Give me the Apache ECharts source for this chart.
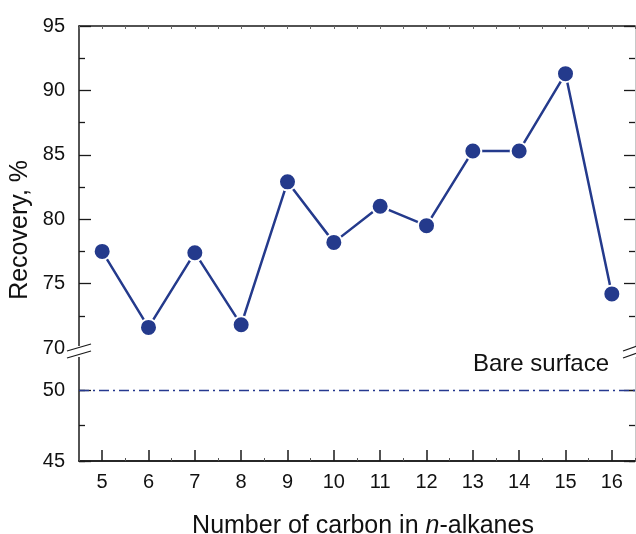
<!DOCTYPE html>
<html><head><meta charset="utf-8">
<script src="https://cdn.jsdelivr.net/npm/echarts@6/dist/echarts.min.js"></script>
<style>html,body{margin:0;padding:0;background:#fff}#c{width:636px;height:534px}</style>
</head><body><div id="c"></div>
<script>
// ---- data ----
const carbonNumbers = ['5','6','7','8','9','10','11','12','13','14','15','16'];
const recovery = [77.5, 71.6, 77.4, 71.8, 82.9, 78.2, 81.0, 79.5, 85.3, 85.3, 91.3, 74.2];
const bareSurface = 50;
const bareSurfaceLabel = 'Bare surface';
const upperRange = [70, 95];   // upper panel of broken y axis
const lowerRange = [45, 52.5]; // lower panel of broken y axis
const yTitle = 'Recovery, %';

const FONT = '"Liberation Sans", Arial, Helvetica, sans-serif';
const BLUE = '#243a8c';
const AX = '#1a1a1a';

const chart = echarts.init(document.getElementById('c'), null, {renderer: 'canvas'});
const halfTicks = carbonNumbers.flatMap(c => ['', '']);

function yAx(grid, pos, range, interval, opts) {
  return Object.assign({
    type: 'value', gridIndex: grid, position: pos, min: range[0], max: range[1], interval: interval,
    splitLine: {show: false},
    axisLine: {show: true, onZero: false, lineStyle: {color: pos === 'left' ? AX : '#c8c8c8', width: pos === 'left' ? 1.5 : 1}},
    axisTick: {show: true, inside: true, length: 12, lineStyle: {color: AX, width: 1.3}},
    axisLabel: {show: false}
  }, opts);
}

const option = {
  animation: false,
  backgroundColor: '#fff',
  grid: [
    {left: 79, right: 1, top: 26, height: 322, containLabel: false, outerBoundsMode: 'none'},
    {left: 79, right: 1, top: 355, height: 106, containLabel: false, outerBoundsMode: 'none'}
  ],
  xAxis: [
    {type: 'category', gridIndex: 0, data: carbonNumbers, show: false},
    {type: 'category', gridIndex: 0, data: halfTicks, position: 'top',
      axisLine: {onZero: false, lineStyle: {color: AX, width: 1.5}},
      axisTick: {show: true, inside: true, length: 3, lineStyle: {color: '#666', width: 1}},
      axisLabel: {show: false}, splitLine: {show: false}},
    {type: 'category', gridIndex: 1, data: carbonNumbers, position: 'bottom',
      axisLine: {onZero: false, lineStyle: {color: AX, width: 1.5}},
      axisTick: {show: true, inside: true, length: 3, lineStyle: {color: '#555', width: 1}},
      axisLabel: {show: false}, splitLine: {show: false}},
    {type: 'category', gridIndex: 1, data: carbonNumbers, position: 'bottom',
      axisLine: {show: true, onZero: false, lineStyle: {color: AX, width: 1.5}},
      axisTick: {show: true, inside: true, alignWithLabel: true, length: 11, lineStyle: {color: AX, width: 1.5}},
      axisLabel: {fontFamily: FONT, fontSize: 20, color: '#111', margin: 11},
      splitLine: {show: false},
      name: '{a|Number of carbon in }{i|n}{a|-alkanes}', nameLocation: 'middle', nameGap: 53,
      nameTextStyle: {padding: [0, 0, 0, 12], rich: {
        a: {fontFamily: FONT, fontSize: 25, color: '#111'},
        i: {fontFamily: FONT, fontSize: 25, color: '#111', fontStyle: 'italic'}
      }}}
  ],
  yAxis: [
    yAx(0, 'left', upperRange, 5, {
      minorTick: {show: true, splitNumber: 2, length: 6, lineStyle: {color: AX, width: 1.3}},
      axisLabel: {show: true, fontFamily: FONT, fontSize: 20, color: '#111', margin: 14}
    }),
    yAx(0, 'right', upperRange, 5, {
      axisTick: {show: true, inside: true, length: 11, lineStyle: {color: AX, width: 1.3}},
      minorTick: {show: true, splitNumber: 2, length: 6, lineStyle: {color: AX, width: 1.3}}
    }),
    yAx(1, 'left', lowerRange, 2.5, {
      axisTick: {show: true, inside: true, length: 6, lineStyle: {color: AX, width: 1.3}},
      axisLabel: {show: true, fontFamily: FONT, fontSize: 20, color: '#111', margin: 14, showMaxLabel: false,
        formatter: v => (v % 5 === 0 ? String(v) : '')}
    }),
    yAx(1, 'left', lowerRange, 5, {axisLine: {show: false, onZero: false}}),
    yAx(1, 'right', lowerRange, 2.5, {
      axisTick: {show: true, inside: true, length: 6, lineStyle: {color: AX, width: 1.3}}
    }),
    yAx(1, 'right', lowerRange, 5, {axisLine: {show: false, onZero: false},
      axisTick: {show: true, inside: true, length: 11, lineStyle: {color: AX, width: 1.3}}})
  ],
  series: [
    {type: 'line', xAxisIndex: 0, yAxisIndex: 0, data: recovery,
      symbol: 'circle', symbolSize: 17, z: 5,
      lineStyle: {color: BLUE, width: 2.5},
      itemStyle: {color: BLUE, borderColor: '#fff', borderWidth: 2}},
    {type: 'line', xAxisIndex: 3, yAxisIndex: 2, data: [],
      markLine: {silent: true, symbol: 'none', label: {show: false},
        lineStyle: {color: '#26398f', width: 1.4, opacity: 1, type: [10, 4, 2, 4]},
        data: [{yAxis: bareSurface}]}}
  ],
  graphic: [
    {type: 'rect', shape: {x: 73, y: 346, width: 21, height: 11}, style: {fill: '#fff'}, z: 100},
    {type: 'rect', shape: {x: 619, y: 346, width: 17, height: 11}, style: {fill: '#fff'}, z: 100},
    {type: 'line', shape: {x1: 67, y1: 351, x2: 91, y2: 344}, style: {stroke: AX, lineWidth: 1.3}, z: 101},
    {type: 'line', shape: {x1: 67, y1: 358, x2: 91, y2: 351}, style: {stroke: AX, lineWidth: 1.3}, z: 101},
    {type: 'line', shape: {x1: 623, y1: 351, x2: 637, y2: 346}, style: {stroke: AX, lineWidth: 1.3}, z: 101},
    {type: 'line', shape: {x1: 623, y1: 358, x2: 637, y2: 353}, style: {stroke: AX, lineWidth: 1.3}, z: 101},
    {type: 'text', right: 27, top: 352, z: 101,
      style: {text: bareSurfaceLabel, font: '24px ' + FONT, fill: '#111'}},
    {type: 'text', left: 8, top: 160, rotation: Math.PI / 2, z: 101,
      style: {text: yTitle, font: '25px ' + FONT, fill: '#111'}}
  ]
};
chart.setOption(option);
</script></body></html>
